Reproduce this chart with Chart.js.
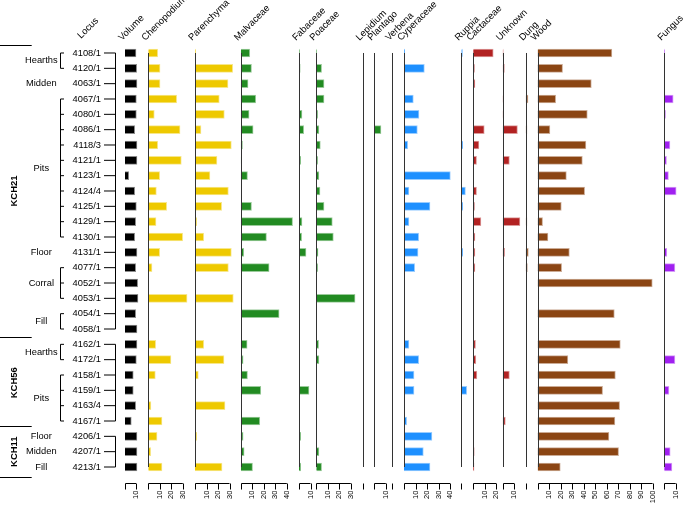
<!DOCTYPE html>
<html>
<head>
<meta charset="utf-8">
<script src="https://cdn.jsdelivr.net/npm/chart.js@4.4.1/dist/chart.umd.min.js"></script>
<style>
  html, body { margin: 0; padding: 0; background: #fff; }
</style>
</head>
<body>
<canvas id="macroChart" width="685" height="506"></canvas>
<script>
// rows, top to bottom
const loci = ['4108/1', '4120/1', '4063/1', '4067/1', '4080/1', '4086/1', '4118/3', '4121/1',
  '4123/1', '4124/4', '4125/1', '4129/1', '4130/1', '4131/1', '4077/1', '4052/1', '4053/1',
  '4054/1', '4058/1', '4162/1', '4172/1', '4158/1', '4159/1', '4163/4', '4167/1',
  '4206/1', '4207/1', '4213/1'];

const sites = ['KCH21', 'KCH56', 'KCH11'];
const siteRows = [[0, 18], [19, 24], [25, 27]];
const contexts = ['Hearths', 'Midden', 'Pits', 'Floor', 'Corral', 'Fill', 'Hearths', 'Pits', 'Floor', 'Midden', 'Fill'];
const contextRows = [[0, 1], [2, 2], [3, 12], [13, 13], [14, 16], [17, 18], [19, 20], [21, 24], [25, 25], [26, 26], [27, 27]];

const panels = ['Volume', 'Chenopodium', 'Parenchyma', 'Malvaceae', 'Fabaceae', 'Poaceae', 'Lepidium',
  'Plantago', 'Verbena', 'Cyperaceae', 'Ruppia', 'Cactaceae', 'Unknown', 'Dung', 'Wood', 'Fungus'];
const tickMax = [10, 30, 30, 40, 10, 30, 0, 10, 0, 40, 0, 20, 10, 0, 100, 10];

const volume = [10, 10.6, 10.9, 10.3, 10.3, 8.8, 10.9, 10.9, 3.4, 8.8, 10.3, 9.7, 8.8, 10.9, 9.7, 11.5, 11.8, 9.7, 10.9, 10.9, 10.3, 7.5, 7.5, 9.7, 5.7, 10.9, 10.9, 10.9];
const chenopodium = [8.2, 10.2, 10.2, 24.7, 5.2, 27.6, 8.2, 28.7, 9.9, 7, 16, 6.7, 29.9, 9.9, 3.2, 0, 33.7, 0, 0, 6.4, 19.7, 6.1, 0, 2.3, 11.9, 7.6, 2.1, 11.9];
const parenchyma = [0.4, 32.8, 28.7, 21.1, 25.5, 5.2, 31.6, 19.1, 13, 29, 23.2, 1.5, 7.6, 31.6, 29, 0, 33.3, 0, 0, 7.6, 25.2, 2.9, 0, 26.1, 0, 1.5, 0, 23.5];
const malvaceae = [7.8, 9.3, 6.3, 13, 7.2, 10.7, 1.5, 0.6, 5.8, 0, 9.3, 45, 22.3, 2.6, 24.6, 0, 0, 33.3, 0, 5.5, 2, 5.8, 17.4, 0, 16.5, 2, 2.9, 10.2];
const fabaceae = [0.3, 1.1, 0.6, 0, 2.6, 4.1, 0, 1.5, 0, 0, 0.6, 2.6, 2.3, 6.1, 0, 0, 0, 0, 0, 0.6, 0, 0, 8.7, 0, 0, 1.5, 0, 1.5];
const poaceae = [0.3, 4.6, 6.7, 6.7, 1.1, 2.3, 3.5, 1.1, 2.3, 3.2, 6.7, 13.9, 14.8, 1.5, 1.1, 0, 33.7, 0, 0, 2, 2.3, 0, 0, 0, 0, 0, 2.3, 4.6];
const lepidium = [0, 0, 0, 0, 0, 0, 0, 0, 0, 0, 0, 0, 0, 0, 0, 0, 0, 0, 0, 0, 0, 0, 0, 0, 0, 0, 0, 0];
const plantago = [0, 0, 0, 0, 0, 5.8, 0, 0, 0, 0, 0, 0, 0, 0, 0, 0, 0, 0, 0, 0, 0, 0, 0, 0, 0, 0, 0, 0];
const verbena = [0, 0, 0, 0, 0, 0, 0, 0, 0, 0, 0, 0, 0, 0, 0, 0, 0, 0, 0, 0, 0, 0, 0, 0, 0, 0, 0, 0];
const cyperaceae = [0.5, 17.7, 0, 8.1, 13, 11.6, 3.2, 0, 40.3, 4.3, 22.6, 4.3, 12.8, 12.2, 9.3, 0, 0, 0, 0, 4.3, 12.8, 8.7, 8.7, 0, 2.3, 24.3, 16.8, 22.6];
const ruppia = [0.9, 0, 0, 0, 0, 0, 1.1, 0, 0, 3.5, 1.1, 0, 0, 1.1, 0, 0, 0, 0, 0, 0, 0, 0, 4.6, 0, 0, 0, 0, 0];
const cactaceae = [17.4, 1.1, 1.5, 0, 0.3, 9.6, 5, 2.9, 0, 2.9, 1.1, 6.7, 1.5, 1.5, 1.5, 0, 0, 0, 0, 2, 2.3, 3.2, 0, 0, 0, 0, 0.9, 0.7];
const unknown = [0.4, 1.5, 0, 0.4, 0.4, 12.8, 0, 5.8, 0, 0, 0, 15, 0, 1.7, 0, 0, 0, 0, 0, 0, 0, 5.8, 0, 0, 2.3, 0, 0, 0];
const dung = [0, 0, 0, 2, 0, 1.1, 0, 0, 0, 0, 0, 1.1, 0, 2.3, 1.5, 0, 0, 0, 0, 0, 0, 0, 0, 0, 0, 0, 0, 0];
const wood = [64.6, 21.7, 46.7, 15.7, 43.2, 10.7, 42, 38.9, 25, 40.9, 20.6, 4.3, 9, 27.6, 20.9, 99.7, 0, 66.7, 0, 71.9, 26.3, 67.6, 56.5, 71.3, 67.2, 62, 70.4, 19.7];
const fungus = [0.3, 0.3, 0, 7.8, 1.1, 0, 5, 2, 3.7, 10.4, 0.4, 0, 0, 2.3, 9.3, 0, 0, 0, 0, 0, 9.3, 0, 4.1, 0, 0, 0, 5.2, 6.7];

const series = [volume, chenopodium, parenchyma, malvaceae, fabaceae, poaceae, lepidium, plantago,
  verbena, cyperaceae, ruppia, cactaceae, unknown, dung, wood, fungus];

// layout: pixel width of each panel and pixels per unit
const panelWidths = [23.3, 46.7, 45.8, 58.2, 17.3, 46.3, 11.7, 17.7, 12, 57.4, 11.8, 29.5, 23, 11.9, 126.6, 20.8];
const pxPerUnit = panels.map((p, i) => (i === 0 ? 1.1 : 1.15));
const panelColors = ['#000000', '#EEC900', '#EEC900', '#228B22', '#228B22', '#228B22', '#228B22', '#228B22',
  '#228B22', '#1E90FF', '#1E90FF', '#B22222', '#B22222', '#8B4513', '#8B4513', '#A020F0'];

const FONT = '"Liberation Sans", Arial, Helvetica, sans-serif';
Chart.defaults.font.family = FONT;
Chart.defaults.color = '#000';

const fade = (hex, a) => {
  const n = parseInt(hex.slice(1), 16);
  return `rgba(${(n >> 16) & 255},${(n >> 8) & 255},${n & 255},${a})`;
};

const decorations = {
  id: 'decorations',
  afterDatasetsDraw(chart) {
    const { ctx, scales } = chart;
    const y = scales.y;
    const rowY = (i) => y.getPixelForValue(i);
    const step = rowY(1) - rowY(0);
    ctx.save();
    ctx.strokeStyle = '#333';
    ctx.fillStyle = '#000';
    ctx.lineWidth = 1;

    // zero lines of each panel
    panels.forEach((name, p) => {
      if (p === 0) return;
      const x = Math.round(scales['x' + p].getPixelForValue(0)) + 0.5;
      ctx.beginPath();
      ctx.moveTo(x, rowY(0));
      ctx.lineTo(x, rowY(loci.length - 1));
      ctx.stroke();
    });

    // bottom axis brackets
    ctx.strokeStyle = '#000';
    const yb = 483.5;
    panels.forEach((name, p) => {
      const sc = scales['x' + p];
      const x0 = Math.round(sc.getPixelForValue(0)) + 0.5;
      ctx.beginPath();
      if (tickMax[p] > 0) {
        ctx.moveTo(x0, yb);
        ctx.lineTo(sc.getPixelForValue(tickMax[p]), yb);
      }
      for (let v = 0; v <= tickMax[p]; v += 10) {
        const x = v === 0 ? x0 : Math.round(sc.getPixelForValue(v)) + 0.5;
        ctx.moveTo(x, yb);
        ctx.lineTo(x, yb + 6);
      }
      ctx.stroke();
    });

    // column headers
    ctx.font = `9.5px ${FONT}`;
    ctx.textAlign = 'left';
    ctx.textBaseline = 'alphabetic';
    const header = (text, x, yy) => {
      ctx.save();
      ctx.translate(x, yy);
      ctx.rotate(-Math.PI / 4);
      ctx.fillText(text, 0, 0);
      ctx.restore();
    };
    header('Locus', 81, 39);
    panels.forEach((name, p) => header(name, scales['x' + p].getPixelForValue(0) - 3, 41));

    // site brackets next to the locus labels
    siteRows.forEach(([a, b]) => {
      ctx.beginPath();
      ctx.moveTo(115.5, rowY(a));
      ctx.lineTo(115.5, rowY(b));
      for (let i = a; i <= b; i++) {
        ctx.moveTo(104, rowY(i));
        ctx.lineTo(115.5, rowY(i));
      }
      ctx.stroke();
    });

    // context brackets and labels
    ctx.font = `9.3px ${FONT}`;
    ctx.textAlign = 'center';
    ctx.textBaseline = 'middle';
    contexts.forEach((name, k) => {
      const [a, b] = contextRows[k];
      if (b > a) {
        ctx.beginPath();
        ctx.moveTo(60.5, rowY(a));
        ctx.lineTo(60.5, rowY(b));
        for (let i = a; i <= b; i++) {
          ctx.moveTo(60.5, rowY(i));
          ctx.lineTo(64, rowY(i));
        }
        ctx.stroke();
      }
      ctx.fillText(name, 41.3, (rowY(a) + rowY(b)) / 2);
    });

    // site labels
    ctx.font = `bold 9.5px ${FONT}`;
    sites.forEach((name, k) => {
      const [a, b] = siteRows[k];
      ctx.save();
      ctx.translate(14.5, (rowY(a) + rowY(b)) / 2);
      ctx.rotate(-Math.PI / 2);
      ctx.fillText(name, 0, 0);
      ctx.restore();
    });

    // separators between sites
    const seps = [rowY(0) - step / 2 - 0.2, (rowY(18) + rowY(19)) / 2, rowY(24) + 5, rowY(27) + 9.7];
    ctx.beginPath();
    seps.forEach((s) => {
      const yy = Math.round(s) + 0.5;
      ctx.moveTo(0, yy);
      ctx.lineTo(31.7, yy);
    });
    ctx.stroke();
    ctx.restore();
  },
};

const scales = {
  y: {
    type: 'category',
    labels: loci,
    position: 'left',
    offset: true,
    grid: { display: false, drawTicks: false },
    border: { display: false },
    ticks: { padding: 24, font: { size: 9.3 }, color: '#000', autoSkip: false },
    afterFit: (s) => {
      s.width = 125;
      s.paddingTop = 0;
      s.paddingBottom = 0;
    },
  },
};

panels.forEach((name, p) => {
  scales['x' + p] = {
    type: 'linear',
    position: 'bottom',
    stack: 'panels',
    stackWeight: panelWidths[p],
    min: 0,
    max: panelWidths[p] / pxPerUnit[p],
    bounds: 'data',
    offset: false,
    grid: { display: false, drawTicks: false },
    border: { display: false },
    ticks: {
      display: tickMax[p] > 0,
      autoSkip: false,
      minRotation: 90,
      maxRotation: 90,
      padding: 16,
      font: { size: 7.5 },
      color: '#000',
      callback: (v) => String(v),
    },
    afterBuildTicks: (s) => {
      const t = [];
      for (let v = 10; v <= tickMax[p]; v += 10) t.push({ value: v });
      s.ticks = t;
    },
    afterFit: (s) => {
      s.height = 506 - 474.67;
      s.paddingLeft = 0;
      s.paddingRight = 0;
    },
  };
});

const datasets = panels.map((name, p) => ({
  label: name,
  data: series[p],
  xAxisID: 'x' + p,
  yAxisID: 'y',
  grouped: false,
  barThickness: 8,
  backgroundColor: panelColors[p],
  borderColor: fade(panelColors[p], 0.45),
  borderWidth: 1,
}));

new Chart(document.getElementById('macroChart').getContext('2d'), {
  type: 'bar',
  data: { labels: loci, datasets },
  options: {
    indexAxis: 'y',
    responsive: false,
    animation: false,
    devicePixelRatio: 1,
    layout: { padding: { top: 45.33, left: 0, right: 0, bottom: 0 } },
    scales,
    plugins: { legend: { display: false }, tooltip: { enabled: false } },
  },
  plugins: [decorations],
});
</script>
</body>
</html>
